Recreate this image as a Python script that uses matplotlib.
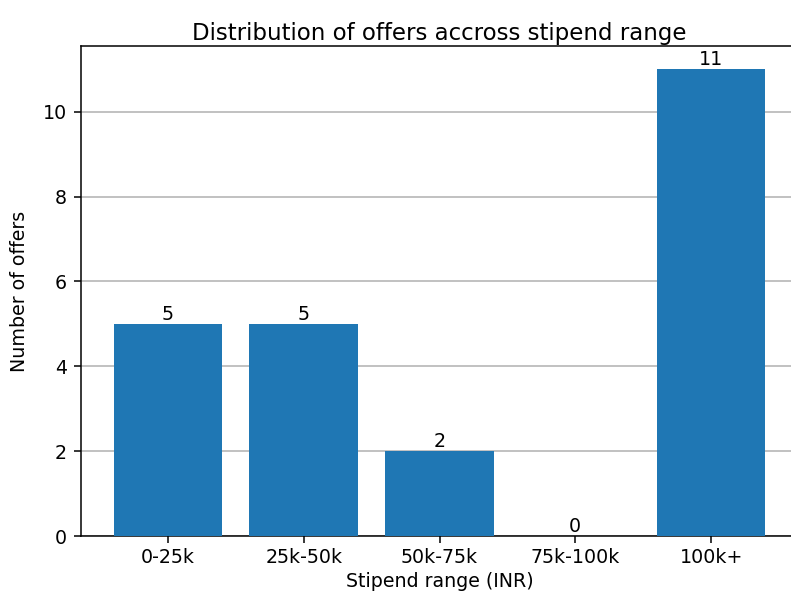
import matplotlib
matplotlib.use("Agg")
import matplotlib.pyplot as plt

ranges = ["0-25k", "25k-50k", "50k-75k", "75k-100k", "100k+"]
offers = [5, 5, 2, 0, 11]

s = 1.37  # the reference is an enlarged default-style figure
plt.rcParams.update({
    "font.size": 10 * s,
    "axes.titlesize": 12 * s,
    "axes.linewidth": 0.8 * s,
    "xtick.major.size": 3.5 * s,
    "ytick.major.size": 3.5 * s,
    "xtick.major.width": 0.8 * s,
    "ytick.major.width": 0.8 * s,
    "ytick.major.pad": 5.5,
    "grid.linewidth": 0.8 * s,
})

fig = plt.figure(figsize=(7.91, 5.92), dpi=100)
# right edge of the axes runs past the image, as in the reference
ax = fig.add_axes([81 / 791, 56 / 592, 717 / 791, 490 / 592])
ax.spines["right"].set_visible(False)

bars = ax.bar(ranges, offers, color="#1f77b4", zorder=3)
ax.bar_label(bars)
ax.grid(axis="y", color="#b0b0b0", zorder=0)

ax.set_title("Distribution of offers accross stipend range", pad=4.5)
ax.set_xlabel("Stipend range (INR)")
ax.set_ylabel("Number of offers", labelpad=10)

fig.savefig("out.png", dpi=100)
